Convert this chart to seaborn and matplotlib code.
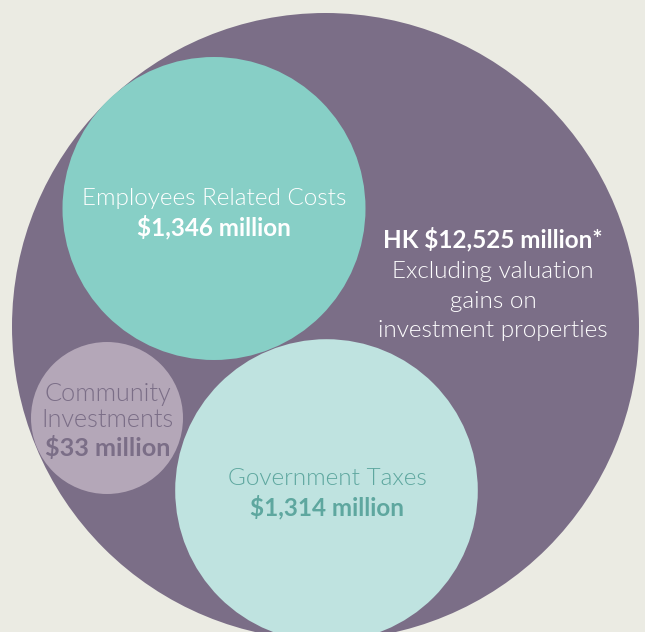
import matplotlib
matplotlib.use("Agg")
import matplotlib.pyplot as plt
import seaborn as sns
import pandas as pd

# ---- data ----
categories = ["Total", "Employees Related Costs", "Government Taxes", "Community Investments"]
values_musd = [12525, 1346, 1314, 33]
name_lines = [["Excluding valuation", "gains on", "investment properties"],
              ["Employees Related Costs"],
              ["Government Taxes"],
              ["Community", "Investments"]]

# ---- layout (pixels, top-down) ----
W, H = 645, 632
centers_x = [325.5, 214, 326.5, 107]
centers_y = [326.5, 208.5, 490.5, 418]
radii = [313.5, 151.5, 151.3, 76]
fill = {"Total": "#7b6e87", "Employees Related Costs": "#87cfc6",
        "Government Taxes": "#bfe3e0", "Community Investments": "#b4a7b8"}
txt_col = ["#ffffff", "#ffffff", "#5ea79f", "#7b6e87"]

sns.set_theme(style="white")
plt.rcParams["font.family"] = ["Lato", "DejaVu Sans"]

fig = plt.figure(figsize=(W / 100, H / 100), dpi=100)
fig.patch.set_facecolor("#ebebe3")
ax = fig.add_axes([0, 0, 1, 1])
ax.set_facecolor("#ebebe3")

df = pd.DataFrame({"x": centers_x, "y": centers_y, "cat": categories})
sizes = [(2 * r * 72 / 100) ** 2 for r in radii]
sns.scatterplot(data=df, x="x", y="y", hue="cat", palette=fill, s=sizes,
                linewidth=0, legend=False, ax=ax, zorder=2)
ax.set_xlim(0, W)
ax.set_ylim(H, 0)
ax.set_axis_off()

fs = 17.5
fs_c = 18.2
light = 300

# Total
tx = 493
ax.text(tx, 247, f"HK ${values_musd[0]:,} million*", ha="center", va="baseline",
        fontsize=fs, fontweight="bold", color=txt_col[0], zorder=3)
for i, ln in enumerate(name_lines[0]):
    ax.text(tx, 278 + 29.7 * i, ln, ha="center", va="baseline", fontsize=fs,
            fontweight=light, color=txt_col[0], zorder=3)

# Employees
ax.text(214, 205, name_lines[1][0], ha="center", va="baseline", fontsize=fs,
        fontweight=light, color=txt_col[1], zorder=3)
ax.text(214, 235, f"${values_musd[1]:,} million", ha="center", va="baseline",
        fontsize=fs, fontweight="bold", color=txt_col[1], zorder=3)

# Government
ax.text(327, 485, name_lines[2][0], ha="center", va="baseline", fontsize=fs,
        fontweight=light, color=txt_col[2], zorder=3)
ax.text(327, 515, f"${values_musd[2]:,} million", ha="center", va="baseline",
        fontsize=fs, fontweight="bold", color=txt_col[2], zorder=3)

# Community
ax.text(108, 401, name_lines[3][0], ha="center", va="baseline", fontsize=fs_c,
        fontweight=light, color=txt_col[3], zorder=3)
ax.text(108, 427, name_lines[3][1], ha="center", va="baseline", fontsize=fs_c,
        fontweight=light, color=txt_col[3], zorder=3)
ax.text(108, 456, f"${values_musd[3]:,} million", ha="center", va="baseline",
        fontsize=fs_c, fontweight="bold", color=txt_col[3], zorder=3)

fig.savefig("out.png", dpi=100, facecolor=fig.get_facecolor())
